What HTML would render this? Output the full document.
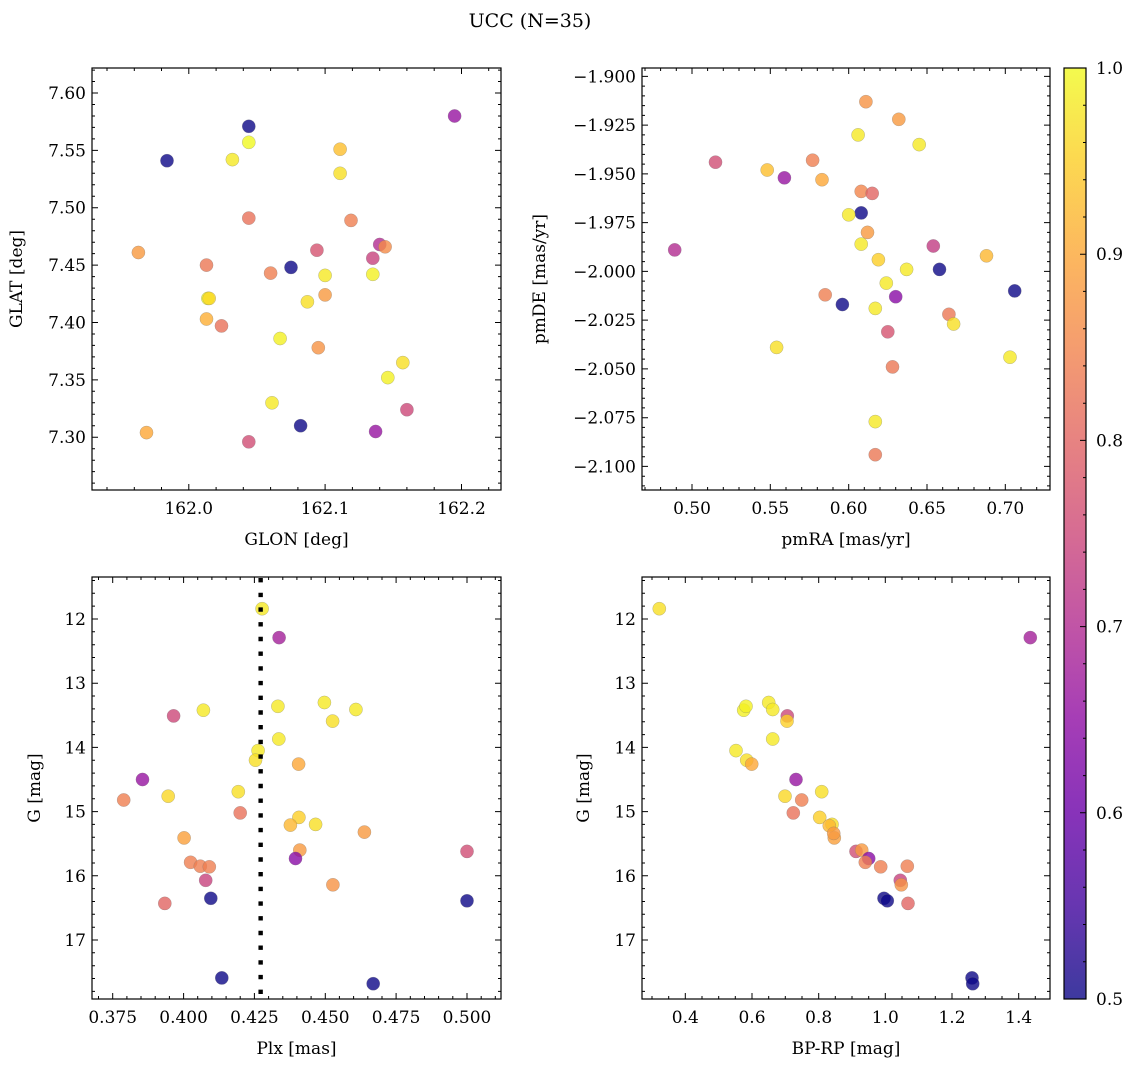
<!DOCTYPE html>
<html><head><meta charset="utf-8">
<style>
html,body{margin:0;padding:0;background:#fff;}
svg{display:block;font-family:"DejaVu Serif","Liberation Serif",serif;}
</style></head>
<body>
<svg id="fig" width="1136" height="1067" viewBox="0 0 1136 1067" xmlns="http://www.w3.org/2000/svg">
<defs>
<linearGradient id="plasma" x1="0" y1="1" x2="0" y2="0">
<stop offset="0" stop-color="#0d0887"/><stop offset="0.1" stop-color="#41049d"/><stop offset="0.2" stop-color="#6a00a8"/><stop offset="0.3" stop-color="#8f0da4"/><stop offset="0.4" stop-color="#b12a90"/><stop offset="0.5" stop-color="#cc4778"/><stop offset="0.6" stop-color="#e16462"/><stop offset="0.7" stop-color="#f2844b"/><stop offset="0.8" stop-color="#fca636"/><stop offset="0.9" stop-color="#fcce25"/><stop offset="1" stop-color="#f0f921"/>
</linearGradient>
</defs>
<text x="530" y="27" font-size="19" text-anchor="middle">UCC (N=35)</text>
</svg>
<script>
// ---- data ----
const tlGlon=[162.195,162.044,162.044,161.984,162.032,162.111,162.111,162.044,162.119,161.963,162.094,162.140,162.144,162.135,162.013,162.075,162.060,162.100,162.135,162.014,162.015,162.100,162.087,162.013,162.024,162.067,162.095,162.157,162.146,162.061,162.160,161.969,162.082,162.137,162.044];
const tlGlat=[7.580,7.571,7.557,7.541,7.542,7.551,7.530,7.491,7.489,7.461,7.463,7.468,7.466,7.456,7.450,7.448,7.443,7.441,7.442,7.421,7.421,7.424,7.418,7.403,7.397,7.386,7.378,7.365,7.352,7.330,7.324,7.304,7.310,7.305,7.296];
const tlProb=[0.66,0.5,1.0,0.5,0.98,0.93,0.97,0.82,0.84,0.88,0.77,0.70,0.86,0.74,0.83,0.5,0.84,0.98,0.99,1.0,0.96,0.88,0.97,0.91,0.82,0.99,0.87,0.97,0.99,0.98,0.75,0.90,0.5,0.66,0.76];

const trPmra=[0.611,0.632,0.606,0.645,0.515,0.548,0.559,0.577,0.583,0.608,0.615,0.608,0.600,0.612,0.608,0.489,0.654,0.688,0.619,0.637,0.658,0.624,0.706,0.585,0.596,0.630,0.617,0.664,0.667,0.625,0.554,0.703,0.628,0.617,0.617];
const trPmde=[-1.913,-1.922,-1.930,-1.935,-1.944,-1.948,-1.952,-1.943,-1.953,-1.959,-1.960,-1.970,-1.971,-1.980,-1.986,-1.989,-1.987,-1.992,-1.994,-1.999,-1.999,-2.006,-2.010,-2.012,-2.017,-2.013,-2.019,-2.022,-2.027,-2.031,-2.039,-2.044,-2.049,-2.077,-2.094];
const trProb=[0.87,0.88,0.98,0.98,0.76,0.93,0.66,0.84,0.90,0.85,0.80,0.5,0.98,0.88,0.98,0.70,0.73,0.92,0.95,0.98,0.5,0.98,0.5,0.84,0.5,0.64,0.98,0.83,0.97,0.77,0.97,0.98,0.83,0.98,0.83];

const blPlx=[0.4277,0.4337,0.3965,0.4070,0.4333,0.4497,0.4608,0.4526,0.4336,0.4263,0.4254,0.4406,0.3855,0.3789,0.3946,0.4193,0.4200,0.4407,0.4377,0.4466,0.4638,0.4002,0.4410,0.4395,0.4025,0.4059,0.4091,0.4078,0.4527,0.5000,0.3934,0.4096,0.5000,0.4135,0.4669];
const blG=[11.84,12.29,13.51,13.42,13.36,13.30,13.41,13.59,13.87,14.05,14.20,14.26,14.50,14.82,14.76,14.69,15.02,15.09,15.21,15.20,15.32,15.41,15.60,15.73,15.79,15.85,15.86,16.07,16.14,15.62,16.43,16.35,16.39,17.59,17.68];
const blProb=[0.98,0.68,0.75,0.98,0.98,0.98,0.98,0.97,0.98,0.98,0.97,0.90,0.66,0.84,0.96,0.97,0.82,0.95,0.92,0.97,0.88,0.89,0.88,0.64,0.84,0.84,0.84,0.74,0.87,0.76,0.80,0.5,0.5,0.5,0.5];

const brBprp=[0.322,1.435,0.575,0.582,0.650,0.662,0.706,0.705,0.662,0.552,0.584,0.599,0.732,0.699,0.809,0.749,0.724,0.803,0.840,0.832,0.847,0.845,0.912,0.929,0.950,0.940,0.986,1.066,1.045,1.048,1.068,0.996,1.006,1.260,1.262];
const brG=[11.84,12.29,13.42,13.36,13.30,13.41,13.51,13.59,13.87,14.05,14.20,14.26,14.50,14.76,14.69,14.82,15.02,15.09,15.20,15.22,15.41,15.34,15.62,15.60,15.73,15.79,15.86,15.85,16.07,16.14,16.43,16.35,16.39,17.59,17.68];
const brProb=[0.97,0.68,0.99,0.99,0.98,0.98,0.75,0.95,0.98,0.98,0.97,0.90,0.66,0.96,0.97,0.84,0.82,0.95,0.97,0.92,0.89,0.88,0.76,0.88,0.64,0.84,0.84,0.84,0.74,0.87,0.80,0.5,0.5,0.5,0.5];

const tlXTicks=[162.0,162.1,162.2];
const tlYTicks=[7.30,7.35,7.40,7.45,7.50,7.55,7.60];
const trXTicks=[0.50,0.55,0.60,0.65,0.70];
const trYTicks=[-1.900,-1.925,-1.950,-1.975,-2.000,-2.025,-2.050,-2.075,-2.100];
const blXTicks=[0.375,0.400,0.425,0.450,0.475,0.500];
const gTicks=[12,13,14,15,16,17];
const brXTicks=[0.4,0.6,0.8,1.0,1.2,1.4];
const cbTicks=[0.5,0.6,0.7,0.8,0.9,1.0];
const plxLine=0.4272;

// ---- drawing ----
const NS='http://www.w3.org/2000/svg';
const svg=document.getElementById('fig');
function mk(tag,attrs,parent){const e=document.createElementNS(NS,tag);for(const k in attrs)e.setAttribute(k,attrs[k]);(parent||svg).appendChild(e);return e;}
const stops=[[13,8,135],[65,4,157],[106,0,168],[143,13,164],[177,42,144],[204,71,120],[225,100,98],[242,132,75],[252,166,54],[252,206,37],[240,249,33]];
function plasma(p){let t=(p-0.5)/0.5;t=Math.max(0,Math.min(1,t));const f=t*10;const i=Math.min(9,Math.floor(f));const u=f-i;const a=stops[i],b=stops[i+1];return 'rgb('+[0,1,2].map(j=>Math.round(a[j]+(b[j]-a[j])*u)).join(',')+')';}
const FS=17;

function panel(o){
  const g=mk('g',{});
  
  
  const sx=v=>o.L+(v-o.x0)/(o.x1-o.x0)*(o.R-o.L);
  const sy=v=>o.T+(v-o.y0)/(o.y1-o.y0)*(o.B-o.T);
  const pg=mk('g',{},g);
  
  
  for(let i=0;i<o.xs.length;i++){
    const c=mk('circle',{cx:sx(o.xs[i]).toFixed(1),cy:sy(o.ys[i]).toFixed(1),r:6.6,fill:plasma(o.ps[i]),'fill-opacity':0.8,stroke:'#777','stroke-opacity':0.5,'stroke-width':0.5},pg);
    
    
  }
  if(o.vline!==undefined){
    const l=mk('line',{x1:sx(o.vline),x2:sx(o.vline),y1:o.T+1,y2:o.B,stroke:'#000','stroke-width':4.4,'stroke-dasharray':'4.4 10.3'},g);
    
    
  }
  const fr=mk('rect',{x:o.L,y:o.T,width:o.R-o.L,height:o.B-o.T,fill:'none',stroke:'#000','stroke-width':1.2},g);
  
  
  let d='';
  const eps=1e-9;
  const xmin=o.xminor, ymin=o.yminor;
  for(let v=Math.ceil(o.x0/xmin-eps)*xmin; v<=o.x1+eps; v+=xmin){
    const x=sx(v); if(x<o.L||x>o.R)continue;
    const major=o.xt.some(t=>Math.abs(t-v)<xmin/10);
    const len=major?6:3;
    d+=`M${x.toFixed(1)} ${o.B}v${-len}M${x.toFixed(1)} ${o.T}v${len}`;
  }
  const ylo=Math.min(o.y0,o.y1), yhi=Math.max(o.y0,o.y1);
  for(let v=Math.ceil(ylo/ymin-eps)*ymin; v<=yhi+eps; v+=ymin){
    const y=sy(v); if(y<o.T||y>o.B)continue;
    const major=o.yt.some(t=>Math.abs(t-v)<ymin/10);
    const len=major?6:3;
    d+=`M${o.L} ${y.toFixed(1)}h${len}M${o.R} ${y.toFixed(1)}h${-len}`;
  }
  const tk=mk('path',{d:d,stroke:'#000','stroke-width':1,fill:'none'},g);
  
  
  o.xt.forEach(v=>{
    const t=mk('text',{x:sx(v).toFixed(1),y:o.B+24,'font-size':FS,'text-anchor':'middle'},g);
    t.textContent=o.xfmt(v);
    
    
  });
  o.yt.forEach(v=>{
    const t=mk('text',{x:o.L-6,y:(sy(v)+6).toFixed(1),'font-size':FS,'text-anchor':'end'},g);
    t.textContent=o.yfmt(v);
    
    
  });
  const xl=mk('text',{x:(o.L+o.R)/2,y:o.B+55,'font-size':FS,'text-anchor':'middle'},g);
  xl.textContent=o.xlabel;
  
  
  const yc=(o.T+o.B)/2;
  const yl=mk('text',{x:o.ylx,y:yc,'font-size':FS,'text-anchor':'middle',transform:`rotate(-90 ${o.ylx} ${yc})`},g);
  yl.textContent=o.ylabel;
  
  
}
const minus=s=>s.replace('-','\u2212');

panel({name:'glon-glat-panel',L:92,R:501,T:68,B:490,x0:161.929,x1:162.229,y0:7.6218,y1:7.254,xs:tlGlon,ys:tlGlat,ps:tlProb,xt:tlXTicks,yt:tlYTicks,xminor:0.02,yminor:0.01,xfmt:v=>v.toFixed(1),yfmt:v=>v.toFixed(2),xlabel:'GLON [deg]',ylabel:'GLAT [deg]',ylx:22});
panel({name:'pm-panel',L:642,R:1050,T:68,B:490,x0:0.4681,x1:0.7285,y0:-1.8957,y1:-2.1121,xs:trPmra,ys:trPmde,ps:trProb,xt:trXTicks,yt:trYTicks,xminor:0.01,yminor:0.005,xfmt:v=>v.toFixed(2),yfmt:v=>minus(v.toFixed(3)),xlabel:'pmRA [mas/yr]',ylabel:'pmDE [mas/yr]',ylx:545});
panel({name:'plx-g-panel',L:92,R:501,T:577,B:999,x0:0.3677,x1:0.512,y0:11.346,y1:17.919,xs:blPlx,ys:blG,ps:blProb,xt:blXTicks,yt:gTicks,xminor:0.005,yminor:0.2,xfmt:v=>v.toFixed(3),yfmt:v=>String(v),xlabel:'Plx [mas]',ylabel:'G [mag]',ylx:40,vline:plxLine});
panel({name:'cmd-panel',L:642,R:1050,T:577,B:999,x0:0.27,x1:1.494,y0:11.346,y1:17.919,xs:brBprp,ys:brG,ps:brProb,xt:brXTicks,yt:gTicks,xminor:0.05,yminor:0.2,xfmt:v=>v.toFixed(1),yfmt:v=>String(v),xlabel:'BP-RP [mag]',ylabel:'G [mag]',ylx:589});

const cb=mk('g',{});


const cL=1064,cR=1086,cT=68,cB=999;
const cy=v=>cB-(v-0.5)/0.5*(cB-cT);
const cr=mk('rect',{x:cL,y:cT,width:cR-cL,height:cB-cT,fill:'url(#plasma)','fill-opacity':0.8},cb);


mk('rect',{x:cL,y:cT,width:cR-cL,height:cB-cT,fill:'none',stroke:'#000','stroke-width':1.2},cb);
let cd='';
for(let k=0;k<=25;k++){const v=0.5+k*0.02;const y=cy(v);const major=cbTicks.some(t=>Math.abs(t-v)<0.001);cd+=`M${cR} ${y.toFixed(1)}h${major?-6:-3}`;}
mk('path',{d:cd,stroke:'#000','stroke-width':1},cb);
cbTicks.forEach(v=>{
  const t=mk('text',{x:cR+10,y:(cy(v)+6).toFixed(1),'font-size':FS},cb);
  t.textContent=v.toFixed(1);
  
  
});
</script>
</body></html>
